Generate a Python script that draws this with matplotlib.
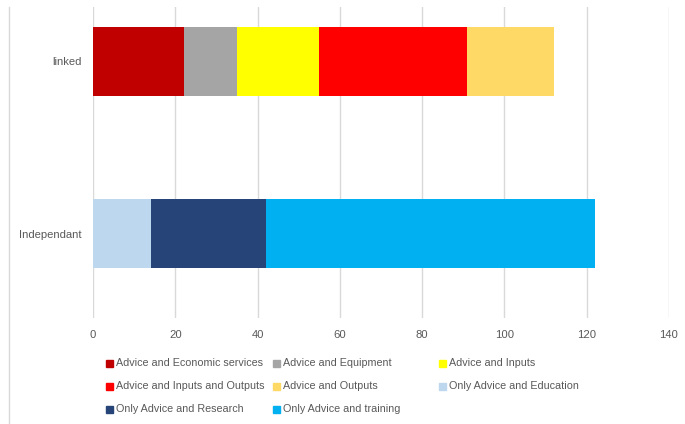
import matplotlib
matplotlib.use("Agg")
import matplotlib.pyplot as plt
import matplotlib.patches as patches
from matplotlib.lines import Line2D

plt.rcParams["font.family"] = ["Liberation Sans", "DejaVu Sans"]

categories = ["Independant", "linked"]
series_names = [
    "Advice and Economic services",
    "Advice and Equipment",
    "Advice and Inputs",
    "Advice and Inputs and Outputs",
    "Advice and Outputs",
    "Only Advice and Education",
    "Only Advice and Research",
    "Only Advice and training",
]
# values per series: [Independant, linked]
series_values = [
    [0, 22],
    [0, 13],
    [0, 20],
    [0, 36],
    [0, 21],
    [14, 0],
    [28, 0],
    [80, 0],
]
colors = ["#C00000", "#A5A5A5", "#FFFF00", "#FF0000", "#FFD966",
          "#BDD7EE", "#264478", "#00B0F0"]
xticks = [0, 20, 40, 60, 80, 100, 120, 140]

W, H = 685, 424
fig = plt.figure(figsize=(W / 100, H / 100), dpi=100)
ax = fig.add_axes([93 / W, 1 - 318 / H, (669 - 93) / W, (318 - 7) / H])

left = [0] * len(categories)
for name, vals, col in zip(series_names, series_values, colors):
    ax.barh(range(len(categories)), vals, left=left, height=0.40,
            color=col, edgecolor="none", zorder=3)
    left = [a + b for a, b in zip(left, vals)]

ax.set_xlim(0, 140)
ax.set_ylim(-0.49, 1.315)
ax.set_xticks(xticks)
ax.set_yticks(range(len(categories)))
ax.set_yticklabels(categories)
ax.grid(axis="x", color="#D9D9D9", linewidth=1, zorder=0)
for s in ax.spines.values():
    s.set_visible(False)
ax.tick_params(axis="both", length=0, labelsize=8.1, labelcolor="#595959")
ax.tick_params(axis="x", pad=8.5)
ax.tick_params(axis="y", pad=8)

# legend, laid out row by row like the original
col_x = [106, 273, 439]
row_y = [363, 386, 409]
for i, (name, col) in enumerate(zip(series_names, colors)):
    r, c = divmod(i, 3)
    x, y = col_x[c], row_y[r]
    fig.patches.append(patches.Rectangle((x / W, 1 - (y + 3.5) / H), 7 / W, 7 / H,
                                         transform=fig.transFigure, color=col,
                                         figure=fig))
    fig.text((x + 10) / W, 1 - y / H, name, fontsize=7.75, color="#595959",
             va="center", ha="left")

# chart frame edge on the left
fig.lines.append(Line2D([8.5 / W, 8.5 / W], [0, 1 - 7 / H], transform=fig.transFigure,
                        color="#D9D9D9", linewidth=1))

fig.savefig("out.png", dpi=100)
